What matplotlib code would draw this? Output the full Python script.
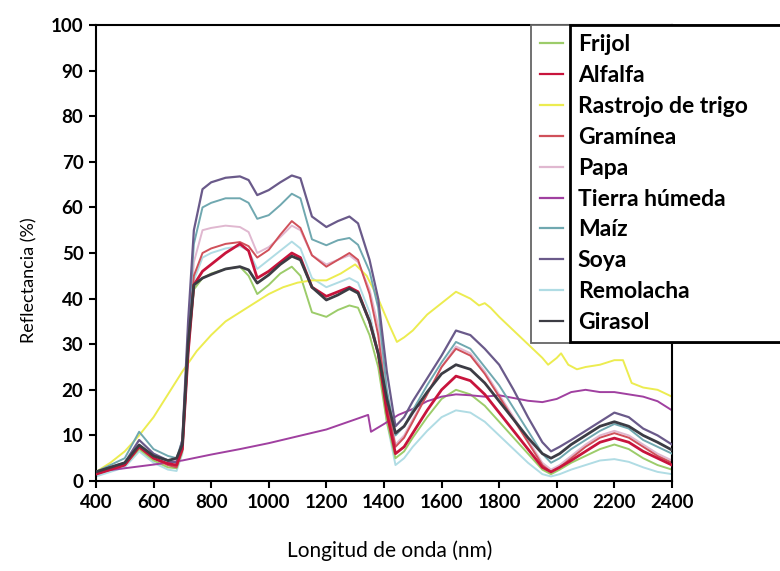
import numpy as np
import matplotlib
matplotlib.use('Agg')
from matplotlib import pyplot as plt
from matplotlib.patches import Rectangle
from matplotlib.lines import Line2D

# wavelength grid (nm) shared by the vegetation curves
wl = [400, 450, 500, 550, 600, 650, 680, 700, 720, 740,
      770, 800, 850, 900, 930, 960, 1000, 1040, 1080, 1110,
      1150, 1200, 1240, 1280, 1310, 1350, 1380, 1410, 1440, 1470,
      1500, 1550, 1600, 1650, 1700, 1750, 1800, 1850, 1900, 1950,
      1980, 2010, 2050, 2100, 2150, 2200, 2250, 2300, 2350, 2400]

frijol = [1.5, 2.5, 3.5, 7, 4.5, 3, 2.8, 6.5, 28, 42,
          44.5, 45.5, 46.5, 47, 45, 41, 43, 45.5, 47, 45,
          37, 36, 37.5, 38.5, 38, 32, 25, 13, 5, 6.5,
          9.5, 14, 18, 20, 19, 16.5, 13, 9.5, 6, 2.5,
          1.5, 2.5, 4, 5.5, 7, 8, 7, 5, 3.5, 2.5]
alfalfa = [1.5, 2.5, 3.5, 7.5, 5, 3.8, 3.5, 7, 28, 43,
           46, 47.5, 50, 52, 50.5, 44.5, 46, 48, 50, 49,
           42.5, 40.5, 41.5, 42.5, 41.5, 35, 28, 15, 6, 7.5,
           10.5, 15.5, 20, 23, 22, 19, 15, 11, 7, 3,
           2, 3, 4.5, 6.5, 8.5, 9.4, 8.5, 6.5, 5, 3.5]
graminea = [1.5, 2.5, 3.5, 7.5, 5, 3.5, 3, 7, 29, 45,
            50, 51, 52, 52.4, 51.5, 49, 50.7, 54, 57, 55.5,
            49.5, 47, 48.5, 50, 48.5, 41, 32, 17, 7.5, 9.5,
            13, 19, 25, 29, 27.5, 23.5, 18.5, 13.5, 8.5, 3.5,
            2, 3, 5, 7.5, 9.5, 10.5, 9.5, 7.5, 5.5, 4]
papa = [1.5, 2.5, 3.5, 7.5, 5, 3.5, 3.2, 7, 30, 48,
        55, 55.5, 56, 55.7, 54.6, 50, 51.3, 53.5, 56, 55,
        49.5, 47.5, 48.5, 49.5, 48, 42, 34, 18, 8, 10,
        13.5, 19, 25, 29.5, 28, 24, 19, 14, 9, 4,
        2.5, 3.5, 5.5, 8, 10, 11, 10, 8, 6, 4.5]
maiz = [2, 3.5, 5, 10.8, 7, 5.5, 5, 9, 33, 52,
        60, 61, 62, 62, 61, 57.5, 58.3, 60.5, 63, 62,
        53, 51.7, 52.8, 53.3, 51.8, 46, 38, 20, 10, 12,
        15.5, 21, 26, 30.5, 29, 25, 21, 16, 11, 6,
        4, 5, 7, 9, 11, 12.5, 11.5, 9, 7.5, 6]
soya = [2, 3, 4, 9, 6, 4.5, 4, 9, 35, 55,
        64, 65.5, 66.5, 66.8, 66, 62.7, 63.8, 65.5, 67, 66.4,
        58, 55.7, 57, 58, 56.5, 48.5, 40, 24, 12, 14,
        17.5, 22.5, 27.5, 33, 32, 29, 25.5, 20, 14, 8.5,
        6.5, 7.5, 9, 11, 13, 15, 14, 11.5, 10, 8]
remolacha = [1, 2, 3, 6.5, 4, 2.5, 2.2, 6, 27, 44,
             49, 50, 51, 51.5, 50.5, 46.5, 48.5, 50.5, 52.5, 51,
             44.5, 42.5, 43.5, 44.5, 43.5, 37, 28, 13, 3.5, 5,
             7.5, 11, 14, 15.5, 15, 13, 10, 7, 4, 1.5,
             1, 1.5, 2.5, 3.5, 4.5, 4.8, 4.2, 3, 2, 1.5]
girasol = [2, 3, 4, 7.9, 5.5, 4.5, 5, 8, 30, 43,
           44.5, 45.3, 46.5, 47, 46.3, 43.4, 45.2, 47.5, 49.3, 48.5,
           42.5, 39.7, 40.8, 42.2, 41.2, 35, 28, 18, 10.5, 12,
           15, 19.5, 23.5, 25.5, 24.5, 21.5, 17.5, 13.5, 9.5, 6,
           5, 6, 8, 10, 12, 13, 12, 10, 8.5, 6.8]

# wheat stubble (own grid)
wl_rastrojo = [400, 450, 500, 550, 600, 650, 700, 750, 800, 850,
               900, 950, 1000, 1050, 1100, 1150, 1200, 1250, 1300, 1340,
               1380, 1420, 1445, 1470, 1500, 1550, 1600, 1650, 1700, 1730,
               1750, 1770, 1800, 1850, 1900, 1950, 1970, 2000, 2015, 2040,
               2070, 2100, 2150, 2200, 2230, 2260, 2300, 2350, 2400]
rastrojo = [2, 4, 6.5, 10, 14, 19, 24, 28.5, 32, 35,
            37, 39, 41, 42.5, 43.5, 44, 44, 45.5, 47.5, 45,
            40, 34, 30.5, 31.5, 33, 36.5, 39, 41.5, 40, 38.5,
            39, 38, 36, 33, 30, 27, 25.5, 27, 28, 25.5,
            24.5, 25, 25.5, 26.5, 26.5, 21.5, 20.5, 20, 18.5]

# wet soil (own grid)
wl_tierra = [400, 500, 600, 700, 800, 900, 1000, 1100, 1200, 1300,
             1345, 1355, 1400, 1450, 1500, 1550, 1600, 1650, 1700, 1750,
             1800, 1850, 1900, 1950, 2000, 2050, 2100, 2150, 2200, 2250,
             2300, 2350, 2400]
tierra = [2, 2.8, 3.6, 4.5, 5.8, 7, 8.3, 9.8, 11.3, 13.5,
          14.5, 10.8, 12.5, 14.5, 15.8, 17.5, 18.5, 19, 18.8, 18.5,
          18.8, 18.2, 17.6, 17.3, 18, 19.5, 20, 19.5, 19.5, 19,
          18.5, 17.5, 15.5]

labels = ['Frijol', 'Alfalfa', 'Rastrojo de trigo', 'Gramínea', 'Papa',
          'Tierra húmeda', 'Maíz', 'Soya', 'Remolacha', 'Girasol']
colors = ['#9ccc6a', '#c8143c', '#ecec50', '#d0505a', '#e0b8d0',
          '#a040a0', '#70a8b0', '#6a5a8a', '#b0dce4', '#3c3c44']

plt.rcParams['font.family'] = ['Lato', 'DejaVu Sans']

fig = plt.figure(figsize=(7.8, 5.71), dpi=100)
ax = fig.add_axes([0.123, 0.1576, 0.7385, 0.7986])

series = [(wl, frijol, 1.4), (wl, alfalfa, 2.0), (wl_rastrojo, rastrojo, 1.4),
          (wl, graminea, 1.4), (wl, papa, 1.4), (wl_tierra, tierra, 1.4),
          (wl, maiz, 1.4), (wl, soya, 1.6), (wl, remolacha, 1.4), (wl, girasol, 2.0)]
# draw order: pale curves first, strong ones on top
order = [8, 4, 0, 2, 5, 3, 6, 7, 1, 9]
for i in order:
    x, y, lw = series[i]
    ax.plot(x, y, color=colors[i], lw=lw, zorder=2 + order.index(i) * 0.1)

ax.set_xlim(400, 2400)
ax.set_ylim(0, 100)
ax.set_xticks(range(400, 2401, 200))
ax.set_yticks(range(0, 101, 10))
for s in ax.spines.values():
    s.set_linewidth(1.5)
ax.tick_params(direction='out', length=5, width=1.5, labelsize=13.5, pad=4)
for t in ax.get_xticklabels() + ax.get_yticklabels():
    t.set_fontweight('bold')

fig.text(0.038, 0.51, 'Reflectancia (%)', rotation=90, ha='center', va='center', fontsize=13)
fig.text(0.50, 0.035, 'Longitud de onda (nm)', ha='center', va='center', fontsize=15)

# legend boxes (they run off the right edge like the original)
fig.add_artist(Rectangle((531 / 780, 0.399), 0.5, 0.557, transform=fig.transFigure,
                         facecolor='white', edgecolor='#666666', lw=1.3, zorder=5))
fig.add_artist(Rectangle((570 / 780, 0.401), 0.5, 0.555, transform=fig.transFigure,
                         facecolor='white', edgecolor='black', lw=2, zorder=5.1))

handles = [Line2D([], [], color=c, lw=1.6) for c in colors]
leg = fig.legend(handles, labels, loc='upper left', bbox_to_anchor=(540 / 780, 0.94),
                 bbox_transform=fig.transFigure, frameon=False, borderpad=0,
                 borderaxespad=0, handlelength=1.0, handletextpad=0.65,
                 labelspacing=0.43, prop={'size': 16.5, 'weight': 'bold'})
leg.set_zorder(6)

fig.savefig('out.png', dpi=100)
